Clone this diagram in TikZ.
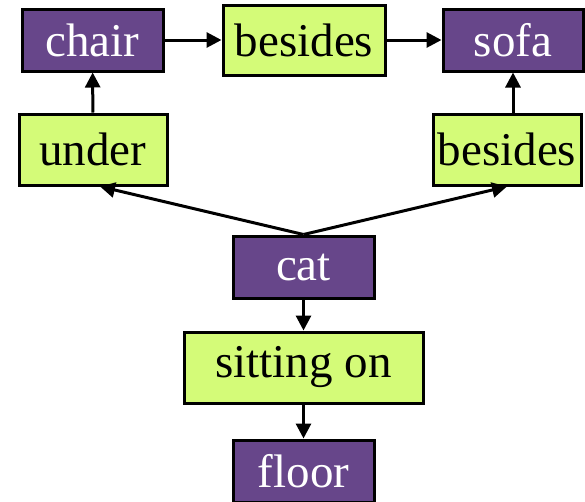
\documentclass[tikz,border=0pt]{standalone}
\usepackage{fontspec}
\setmainfont{Liberation Serif}
\usetikzlibrary{arrows.meta}
\definecolor{concept}{RGB}{103,70,138}
\definecolor{relation}{RGB}{212,251,120}
\tikzset{
  box/.style={draw=black, line width=3pt, inner sep=0pt, anchor=center,
    font=\fontsize{47}{50}\selectfont},
  conceptbox/.style={box, fill=concept, text=white},
  relationbox/.style={box, fill=relation, text=black},
  link/.style={line width=3pt, -{Triangle[length=15pt,width=15pt]}},
}
\begin{document}
\begin{tikzpicture}[x=1pt,y=1pt]
  \useasboundingbox (0,0) rectangle (585,-501);
  % top row
  \node[conceptbox, minimum width=141pt, minimum height=62pt] (chair) at (92.5,-40) {chair};
  \node[relationbox, minimum width=162pt, minimum height=70pt] (besidestop) at (304,-40) {besides};
  \node[conceptbox, minimum width=140pt, minimum height=62pt] (sofa) at (513,-40) {sofa};
  % second row
  \node[relationbox, minimum width=148pt, minimum height=71pt] (under) at (93,-149.5) {under};
  \node[relationbox, minimum width=148pt, minimum height=71pt] (besidesright) at (507,-149.5) {besides};
  % centre column
  \node[conceptbox, minimum width=141pt, minimum height=62pt] (cat) at (303.5,-267) {cat};
  \node[relationbox, minimum width=239pt, minimum height=71pt] (sitting) at (303.5,-367.5) {sitting on};
  \node[conceptbox, minimum width=141pt, minimum height=62pt] (floor) at (303.5,-471) {floor};
  % connectors
  \draw[link] (chair) -- (besidestop);
  \draw[link] (besidestop) -- (sofa);
  \draw[link] (under) -- (chair);
  \draw[link] (besidesright.north -| sofa.south) -- (sofa.south);
  \draw[link] (cat.north) -- ([xshift=7pt]under.south);
  \draw[link] (cat.north) -- (besidesright.south);
  \draw[link] (cat) -- (sitting);
  \draw[link] (sitting) -- (floor);
\end{tikzpicture}
\end{document}
